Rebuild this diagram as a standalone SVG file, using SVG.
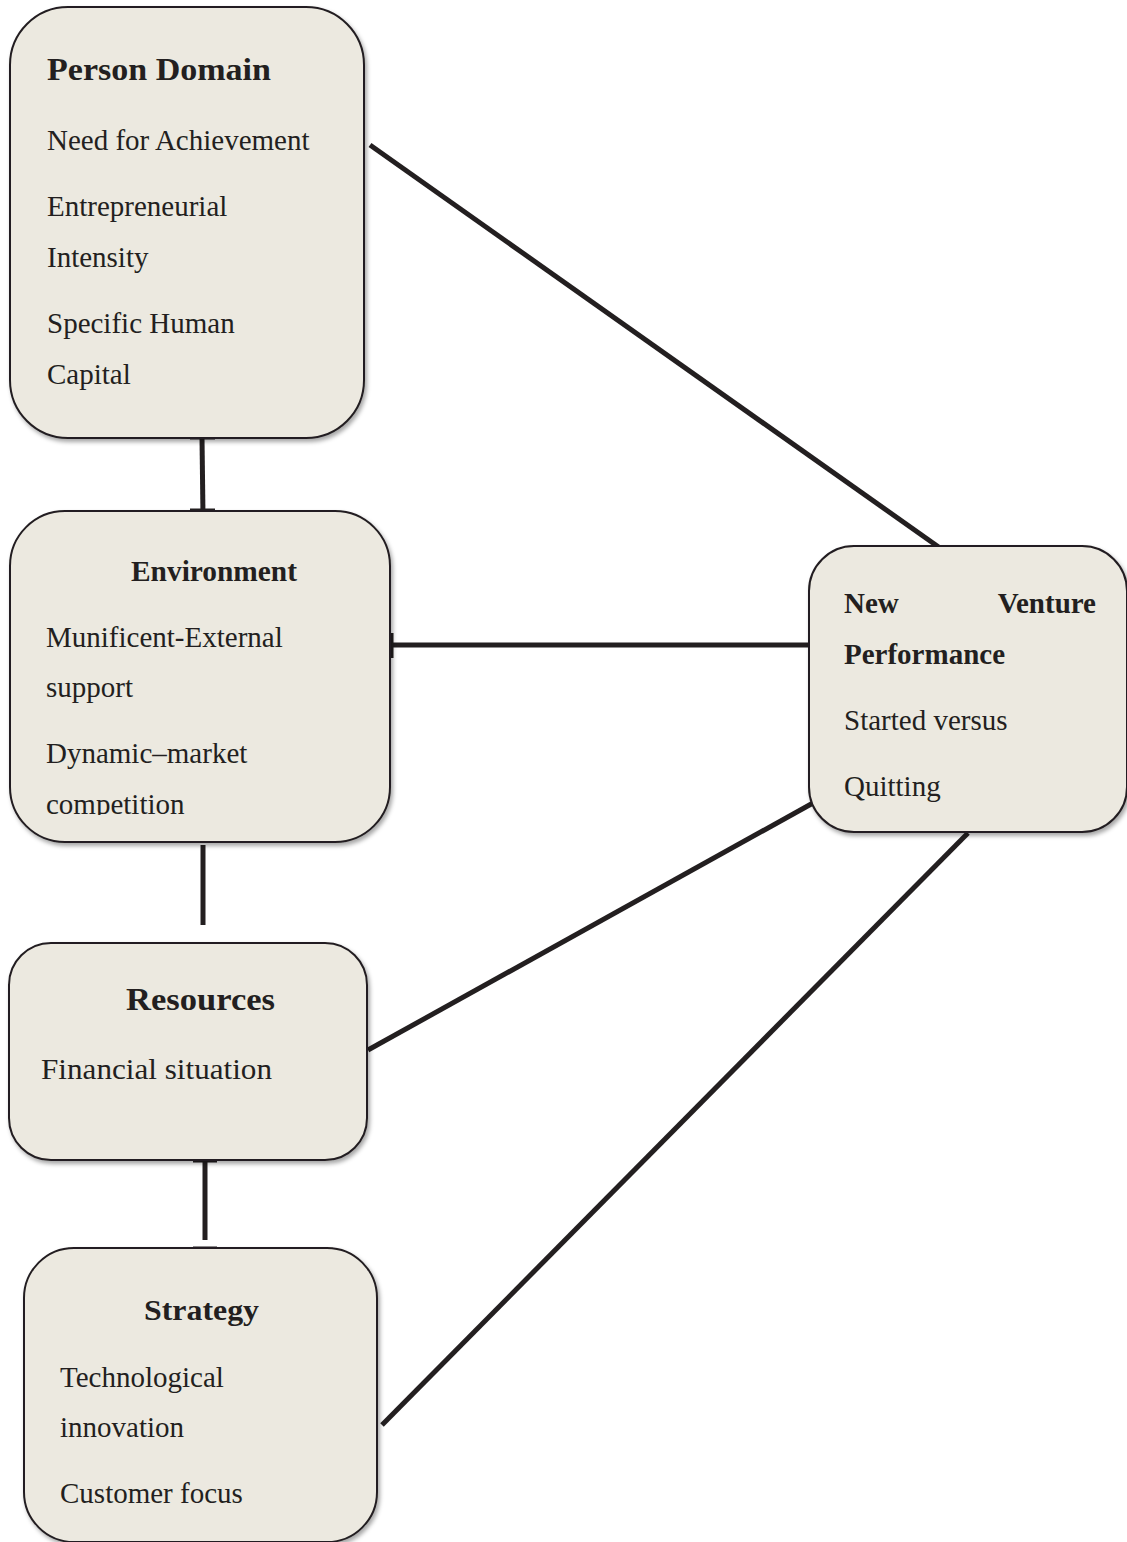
<svg xmlns="http://www.w3.org/2000/svg" width="1127" height="1542" viewBox="0 0 1127 1542">
<style>
.box{fill:#ECE9E0;stroke:#231F20;stroke-width:2;filter:url(#sh)}
.t{font-family:"Liberation Serif","Times New Roman",serif;font-size:29px;fill:#231F20}
.b{font-weight:bold}
.c{stroke:#231F20;stroke-width:5;fill:none}
.tk{stroke:#231F20;stroke-width:3;fill:none}
</style>
<defs>
<filter id="sh" x="-10%" y="-10%" width="120%" height="120%">
<feDropShadow dx="2" dy="3" stdDeviation="2" flood-color="#000" flood-opacity="0.35"/>
</filter>
<clipPath id="envclip"><rect x="0" y="500" width="400" height="315"/></clipPath>
</defs>
<rect width="1127" height="1542" fill="#fff"/>
<g id="connectors">
<line class="c" x1="202" y1="438" x2="203" y2="516"/>
<line class="tk" x1="190" y1="438" x2="215" y2="438"/>
<line class="tk" x1="190" y1="510" x2="215" y2="510"/>
<line class="c" x1="370" y1="145" x2="940" y2="548"/>
<line class="c" x1="393" y1="645" x2="812" y2="645"/>
<line class="tk" x1="392" y1="633" x2="392" y2="658"/>
<line class="tk" x1="810" y1="633" x2="810" y2="658"/>
<line class="c" x1="203" y1="845" x2="203" y2="925"/>
<line class="c" x1="368" y1="1050" x2="813" y2="803"/>
<line class="c" x1="205" y1="1162" x2="205" y2="1240"/>
<line class="tk" x1="193" y1="1161" x2="217" y2="1161"/>
<line class="tk" x1="193" y1="1248" x2="217" y2="1248"/>
<line class="c" x1="382" y1="1425" x2="968" y2="833"/>
</g>
<g id="person">
<rect class="box" x="10" y="7" width="354" height="431" rx="58" ry="58"/>
<text class="t b" x="47" y="80" textLength="224" lengthAdjust="spacingAndGlyphs" style="font-size:32px">Person Domain</text>
<text class="t" x="47" y="150">Need for Achievement</text>
<text class="t" x="47" y="216">Entrepreneurial</text>
<text class="t" x="47" y="267">Intensity</text>
<text class="t" x="47" y="333">Specific Human</text>
<text class="t" x="47" y="384">Capital</text>
</g>
<g id="environment">
<rect class="box" x="10" y="511" width="380" height="331" rx="55" ry="55"/>
<text class="t b" x="131" y="581" textLength="166" lengthAdjust="spacingAndGlyphs">Environment</text>
<text class="t" x="46" y="647">Munificent-External</text>
<text class="t" x="46" y="697">support</text>
<text class="t" x="46" y="763">Dynamic–market</text>
<text class="t" x="46" y="814" clip-path="url(#envclip)">competition</text>
</g>
<g id="nvp">
<rect class="box" x="809" y="546" width="318" height="286" rx="45" ry="45"/>
<text class="t b" x="844" y="613">New</text>
<text class="t b" x="1096" y="613" text-anchor="end">Venture</text>
<text class="t b" x="844" y="664">Performance</text>
<text class="t" x="844" y="730">Started versus</text>
<text class="t" x="844" y="796">Quitting</text>
</g>
<g id="resources">
<rect class="box" x="9" y="943" width="358" height="217" rx="42" ry="42"/>
<text class="t b" x="126" y="1010" textLength="149" lengthAdjust="spacingAndGlyphs" style="font-size:32px">Resources</text>
<text class="t" x="41" y="1079" textLength="231" lengthAdjust="spacingAndGlyphs">Financial situation</text>
</g>
<g id="strategy">
<rect class="box" x="24" y="1248" width="353" height="294" rx="50" ry="50"/>
<text class="t b" x="144" y="1320" textLength="115" lengthAdjust="spacingAndGlyphs">Strategy</text>
<text class="t" x="60" y="1387">Technological</text>
<text class="t" x="60" y="1437">innovation</text>
<text class="t" x="60" y="1503">Customer focus</text>
</g>
</svg>
